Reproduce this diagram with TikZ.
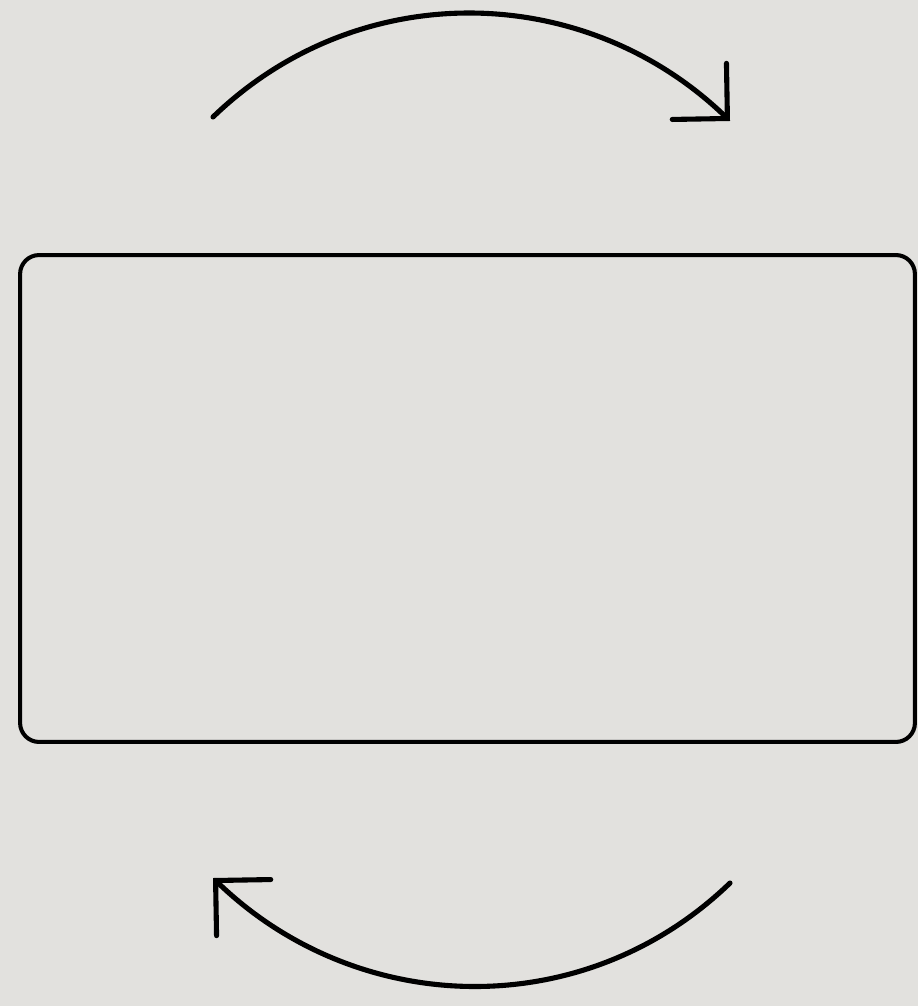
\documentclass[tikz,border=0pt]{standalone}
\usetikzlibrary{arrows.meta}
\definecolor{bggray}{HTML}{E2E1DE}
\tikzset{
  cyclearrow/.style={line width=2.9pt, line cap=round, -{Straight Barb[length=0.78cm,width=1.56cm,line cap=round,line join=miter]}},
  framebox/.style={draw=black, line width=2.3pt, rounded corners=0.38cm, minimum width=17.9cm, minimum height=9.74cm, inner sep=0pt}
}
\begin{document}
\begin{tikzpicture}[x=0.02cm,y=-0.02cm]
\useasboundingbox (0,0) rectangle (918,1006);
\fill[bggray] (0,0) rectangle (918,1006);
\node[framebox] (panel) at (467.5,498.5) {};
\coordinate (topstart) at (213,117);
\coordinate (topend) at (730,121);
\coordinate (botstart) at (730,883);
\coordinate (botend) at (213,878);
\draw[cyclearrow] (topstart) to[out=44,in=136] (topend);
\draw[cyclearrow] (botstart) to[out=-136,in=-44] (botend);
\end{tikzpicture}
\end{document}
